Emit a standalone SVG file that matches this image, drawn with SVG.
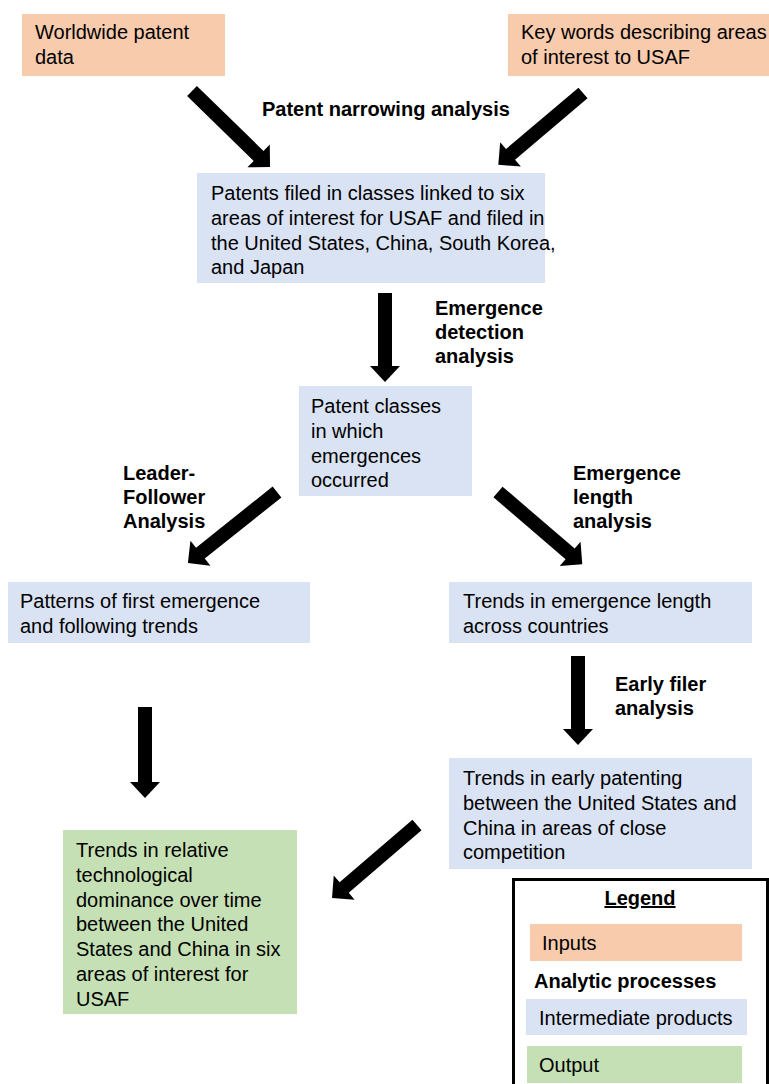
<svg xmlns="http://www.w3.org/2000/svg" width="769" height="1084" viewBox="0 0 769 1084">
<style>
text{font-family:"Liberation Sans",Arial,sans-serif;font-size:20px;fill:#000}
.b{font-weight:bold}
.in{fill:#F8CBAD}
.im{fill:#DAE3F3}
.out{fill:#C5E0B4}
.arr{fill:#000}
</style>
<rect width="769" height="1084" fill="#fff"/>
<g id="connectors">
<polygon class="arr" transform="translate(192,91) rotate(44.26)" points="0,-7 93,-7 93,-16 109,0 93,16 93,7 0,7"/>
<polygon class="arr" transform="translate(583,93) rotate(139.73)" points="0,-7 95,-7 95,-16 111,0 95,16 95,7 0,7"/>
<polygon class="arr" transform="translate(385,293) rotate(90)" points="0,-7 73,-7 73,-15 89,0 73,15 73,7 0,7"/>
<polygon class="arr" transform="translate(277,492) rotate(141.4)" points="0,-7 98,-7 98,-16 114,0 98,16 98,7 0,7"/>
<polygon class="arr" transform="translate(498,492) rotate(40.6)" points="0,-7 95,-7 95,-16 111,0 95,16 95,7 0,7"/>
<polygon class="arr" transform="translate(578,656) rotate(90)" points="0,-7 73,-7 73,-15 89,0 73,15 73,7 0,7"/>
<polygon class="arr" transform="translate(145,707) rotate(90)" points="0,-7 75,-7 75,-15 91,0 75,15 75,7 0,7"/>
<polygon class="arr" transform="translate(417,825) rotate(139.35)" points="0,-7 96,-7 96,-16 112,0 96,16 96,7 0,7"/>
<text class="b" x="262" y="116">Patent narrowing analysis</text>
<text class="b" x="435" y="315">Emergence</text>
<text class="b" x="435" y="339">detection</text>
<text class="b" x="435" y="363">analysis</text>
<text class="b" x="123" y="480">Leader-</text>
<text class="b" x="123" y="504">Follower</text>
<text class="b" x="123" y="528">Analysis</text>
<text class="b" x="573" y="480">Emergence</text>
<text class="b" x="573" y="504">length</text>
<text class="b" x="573" y="528">analysis</text>
<text class="b" x="615" y="691">Early filer</text>
<text class="b" x="615" y="715">analysis</text>
</g>
<g id="n1"><rect class="in" x="22" y="14" width="203" height="62"/>
<text x="35" y="39">Worldwide patent</text><text x="35" y="64">data</text></g>
<g id="n2"><rect class="in" x="508" y="14" width="261" height="62"/>
<text x="521" y="39">Key words describing areas</text><text x="521" y="64">of interest to USAF</text></g>
<g id="n3"><rect class="im" x="197" y="173" width="348" height="110"/>
<text x="211" y="200">Patents filed in classes linked to six</text>
<text x="211" y="224.8">areas of interest for USAF and filed in</text>
<text x="211" y="249.6">the United States, China, South Korea,</text>
<text x="211" y="274.4">and Japan</text></g>
<g id="n4"><rect class="im" x="299" y="386" width="173" height="110"/>
<text x="311" y="413">Patent classes</text>
<text x="311" y="437.8">in which</text>
<text x="311" y="462.6">emergences</text>
<text x="311" y="487.4">occurred</text></g>
<g id="n5"><rect class="im" x="8" y="582" width="302" height="61"/>
<text x="20" y="608">Patterns of first emergence</text>
<text x="20" y="632.8">and following trends</text></g>
<g id="n6"><rect class="im" x="449" y="582" width="303" height="61"/>
<text x="463" y="608">Trends in emergence length</text>
<text x="463" y="632.8">across countries</text></g>
<g id="n7"><rect class="im" x="449" y="758" width="303" height="111"/>
<text x="463" y="785">Trends in early patenting</text>
<text x="463" y="809.8">between the United States and</text>
<text x="463" y="834.6">China in areas of close</text>
<text x="463" y="859.4">competition</text></g>
<g id="n8"><rect class="out" x="63" y="830" width="234" height="184"/>
<text x="76" y="857">Trends in relative</text>
<text x="76" y="881.8">technological</text>
<text x="76" y="906.6">dominance over time</text>
<text x="76" y="931.4">between the United</text>
<text x="76" y="956.2">States and China in six</text>
<text x="76" y="981">areas of interest for</text>
<text x="76" y="1005.8">USAF</text></g>
<g id="legend">
<rect x="513.5" y="879.5" width="254" height="210" fill="#fff" stroke="#000" stroke-width="3"/>
<text class="b" x="640" y="905" text-anchor="middle" text-decoration="underline">Legend</text>
<rect class="in" x="530" y="924" width="212" height="37"/>
<text x="542" y="950">Inputs</text>
<text class="b" x="534" y="988">Analytic processes</text>
<rect class="im" x="526" y="999" width="221" height="36"/>
<text x="539" y="1025">Intermediate products</text>
<rect class="out" x="527" y="1046" width="215" height="37"/>
<text x="539" y="1072">Output</text>
</g>
</svg>
